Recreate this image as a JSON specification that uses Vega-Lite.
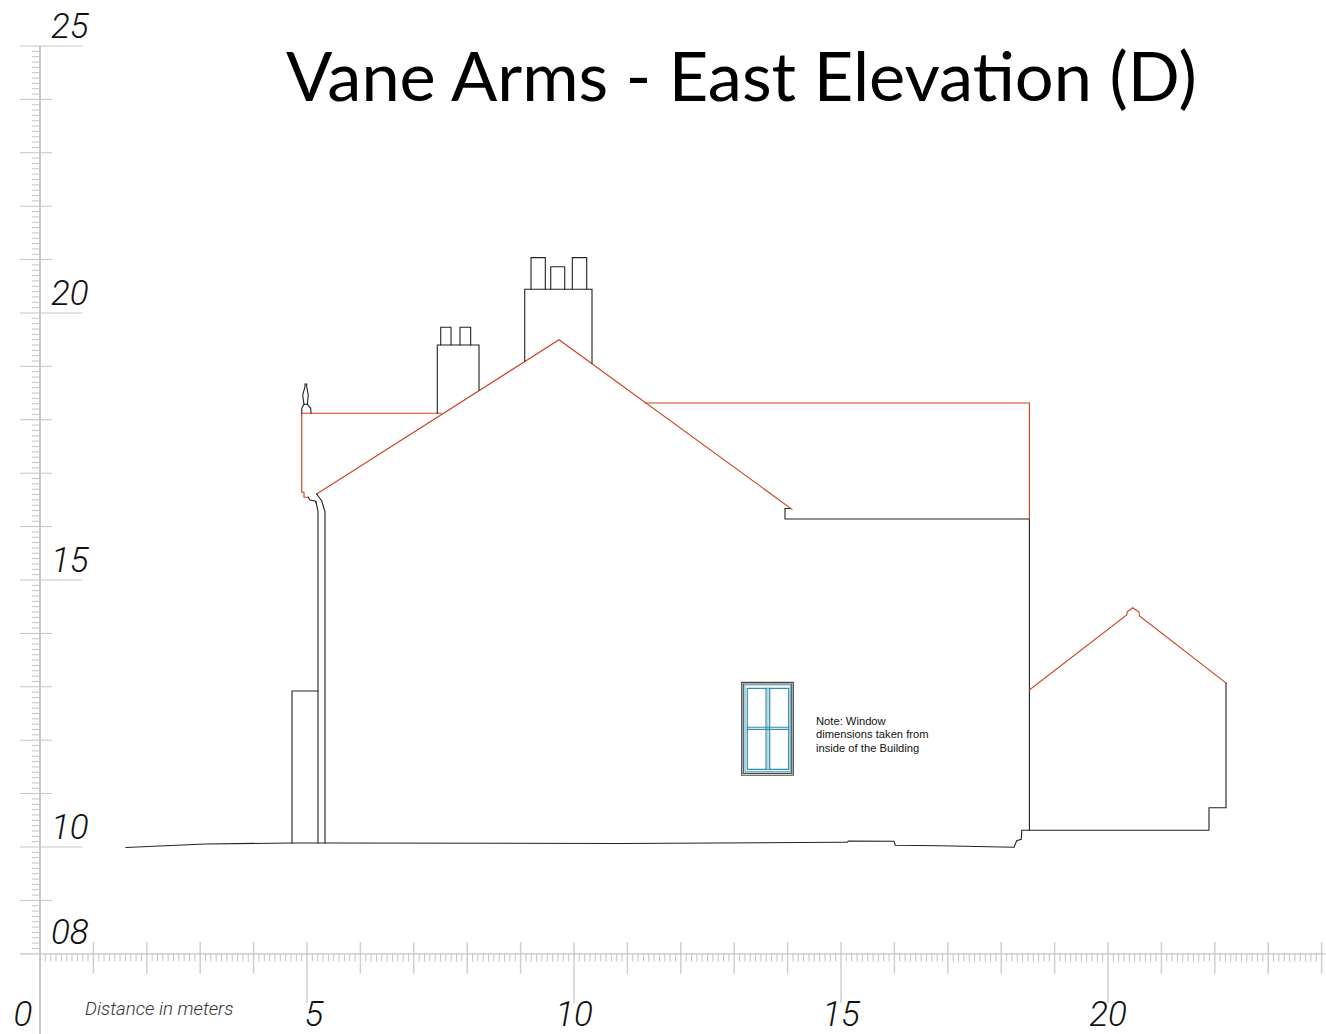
{"$schema":"https://vega.github.io/schema/vega-lite/v6.json","width":1326,"height":1034,"padding":0,"autosize":"none","background":"white","config":{"view":{"stroke":null},"axis":{"disable":true},"legend":{"disable":true}},
"title":{"text":"Vane Arms - East Elevation (D)","anchor":"start","frame":"group","offset":-169,"dx":286,"baseline":"alphabetic","font":"Lato","fontSize":68.5,"fontWeight":400,"color":"#000000"},
"datasets":{
"xMajor":[{"v":1},{"v":2},{"v":3},{"v":4},{"v":6},{"v":7},{"v":8},{"v":9},{"v":11},{"v":12},{"v":13},{"v":14},{"v":16},{"v":17},{"v":18},{"v":19},{"v":21},{"v":22},{"v":23},{"v":24}],
"xFive":[{"v":5},{"v":10},{"v":15},{"v":20}],
"yMajor":[{"v":9},{"v":11},{"v":12},{"v":13},{"v":14},{"v":16},{"v":17},{"v":18},{"v":19},{"v":21},{"v":22},{"v":23},{"v":24}],
"yFive":[{"v":10},{"v":15},{"v":20},{"v":25}],
"xMinor":[{"v":0.1},{"v":0.2},{"v":0.3},{"v":0.4},{"v":0.5},{"v":0.6},{"v":0.7},{"v":0.8},{"v":0.9},{"v":1.1},{"v":1.2},{"v":1.3},{"v":1.4},{"v":1.5},{"v":1.6},{"v":1.7},{"v":1.8},{"v":1.9},{"v":2.1},{"v":2.2},{"v":2.3},{"v":2.4},{"v":2.5},{"v":2.6},{"v":2.7},{"v":2.8},{"v":2.9},{"v":3.1},{"v":3.2},{"v":3.3},{"v":3.4},{"v":3.5},{"v":3.6},{"v":3.7},{"v":3.8},{"v":3.9},{"v":4.1},{"v":4.2},{"v":4.3},{"v":4.4},{"v":4.5},{"v":4.6},{"v":4.7},{"v":4.8},{"v":4.9},{"v":5.1},{"v":5.2},{"v":5.3},{"v":5.4},{"v":5.5},{"v":5.6},{"v":5.7},{"v":5.8},{"v":5.9},{"v":6.1},{"v":6.2},{"v":6.3},{"v":6.4},{"v":6.5},{"v":6.6},{"v":6.7},{"v":6.8},{"v":6.9},{"v":7.1},{"v":7.2},{"v":7.3},{"v":7.4},{"v":7.5},{"v":7.6},{"v":7.7},{"v":7.8},{"v":7.9},{"v":8.1},{"v":8.2},{"v":8.3},{"v":8.4},{"v":8.5},{"v":8.6},{"v":8.7},{"v":8.8},{"v":8.9},{"v":9.1},{"v":9.2},{"v":9.3},{"v":9.4},{"v":9.5},{"v":9.6},{"v":9.7},{"v":9.8},{"v":9.9},{"v":10.1},{"v":10.2},{"v":10.3},{"v":10.4},{"v":10.5},{"v":10.6},{"v":10.7},{"v":10.8},{"v":10.9},{"v":11.1},{"v":11.2},{"v":11.3},{"v":11.4},{"v":11.5},{"v":11.6},{"v":11.7},{"v":11.8},{"v":11.9},{"v":12.1},{"v":12.2},{"v":12.3},{"v":12.4},{"v":12.5},{"v":12.6},{"v":12.7},{"v":12.8},{"v":12.9},{"v":13.1},{"v":13.2},{"v":13.3},{"v":13.4},{"v":13.5},{"v":13.6},{"v":13.7},{"v":13.8},{"v":13.9},{"v":14.1},{"v":14.2},{"v":14.3},{"v":14.4},{"v":14.5},{"v":14.6},{"v":14.7},{"v":14.8},{"v":14.9},{"v":15.1},{"v":15.2},{"v":15.3},{"v":15.4},{"v":15.5},{"v":15.6},{"v":15.7},{"v":15.8},{"v":15.9},{"v":16.1},{"v":16.2},{"v":16.3},{"v":16.4},{"v":16.5},{"v":16.6},{"v":16.7},{"v":16.8},{"v":16.9},{"v":17.1},{"v":17.2},{"v":17.3},{"v":17.4},{"v":17.5},{"v":17.6},{"v":17.7},{"v":17.8},{"v":17.9},{"v":18.1},{"v":18.2},{"v":18.3},{"v":18.4},{"v":18.5},{"v":18.6},{"v":18.7},{"v":18.8},{"v":18.9},{"v":19.1},{"v":19.2},{"v":19.3},{"v":19.4},{"v":19.5},{"v":19.6},{"v":19.7},{"v":19.8},{"v":19.9},{"v":20.1},{"v":20.2},{"v":20.3},{"v":20.4},{"v":20.5},{"v":20.6},{"v":20.7},{"v":20.8},{"v":20.9},{"v":21.1},{"v":21.2},{"v":21.3},{"v":21.4},{"v":21.5},{"v":21.6},{"v":21.7},{"v":21.8},{"v":21.9},{"v":22.1},{"v":22.2},{"v":22.3},{"v":22.4},{"v":22.5},{"v":22.6},{"v":22.7},{"v":22.8},{"v":22.9},{"v":23.1},{"v":23.2},{"v":23.3},{"v":23.4},{"v":23.5},{"v":23.6},{"v":23.7},{"v":23.8},{"v":23.9}],
"yMinor":[{"v":8.1},{"v":8.2},{"v":8.3},{"v":8.4},{"v":8.5},{"v":8.6},{"v":8.7},{"v":8.8},{"v":8.9},{"v":9.1},{"v":9.2},{"v":9.3},{"v":9.4},{"v":9.5},{"v":9.6},{"v":9.7},{"v":9.8},{"v":9.9},{"v":10.1},{"v":10.2},{"v":10.3},{"v":10.4},{"v":10.5},{"v":10.6},{"v":10.7},{"v":10.8},{"v":10.9},{"v":11.1},{"v":11.2},{"v":11.3},{"v":11.4},{"v":11.5},{"v":11.6},{"v":11.7},{"v":11.8},{"v":11.9},{"v":12.1},{"v":12.2},{"v":12.3},{"v":12.4},{"v":12.5},{"v":12.6},{"v":12.7},{"v":12.8},{"v":12.9},{"v":13.1},{"v":13.2},{"v":13.3},{"v":13.4},{"v":13.5},{"v":13.6},{"v":13.7},{"v":13.8},{"v":13.9},{"v":14.1},{"v":14.2},{"v":14.3},{"v":14.4},{"v":14.5},{"v":14.6},{"v":14.7},{"v":14.8},{"v":14.9},{"v":15.1},{"v":15.2},{"v":15.3},{"v":15.4},{"v":15.5},{"v":15.6},{"v":15.7},{"v":15.8},{"v":15.9},{"v":16.1},{"v":16.2},{"v":16.3},{"v":16.4},{"v":16.5},{"v":16.6},{"v":16.7},{"v":16.8},{"v":16.9},{"v":17.1},{"v":17.2},{"v":17.3},{"v":17.4},{"v":17.5},{"v":17.6},{"v":17.7},{"v":17.8},{"v":17.9},{"v":18.1},{"v":18.2},{"v":18.3},{"v":18.4},{"v":18.5},{"v":18.6},{"v":18.7},{"v":18.8},{"v":18.9},{"v":19.1},{"v":19.2},{"v":19.3},{"v":19.4},{"v":19.5},{"v":19.6},{"v":19.7},{"v":19.8},{"v":19.9},{"v":20.1},{"v":20.2},{"v":20.3},{"v":20.4},{"v":20.5},{"v":20.6},{"v":20.7},{"v":20.8},{"v":20.9},{"v":21.1},{"v":21.2},{"v":21.3},{"v":21.4},{"v":21.5},{"v":21.6},{"v":21.7},{"v":21.8},{"v":21.9},{"v":22.1},{"v":22.2},{"v":22.3},{"v":22.4},{"v":22.5},{"v":22.6},{"v":22.7},{"v":22.8},{"v":22.9},{"v":23.1},{"v":23.2},{"v":23.3},{"v":23.4},{"v":23.5},{"v":23.6},{"v":23.7},{"v":23.8},{"v":23.9},{"v":24.1},{"v":24.2},{"v":24.3},{"v":24.4},{"v":24.5},{"v":24.6},{"v":24.7},{"v":24.8},{"v":24.9}],
"yLabels":[{"label":"25","v":25},{"label":"20","v":20},{"label":"15","v":15},{"label":"10","v":10},{"label":"08","v":8.03}],
"xLabels":[{"label":"0","v":-0.318},{"label":"5","v":5.13},{"label":"10","v":10.0},{"label":"15","v":15.0},{"label":"20","v":20.0}],
"notes":[{"label":"Note: Window","x":14.532,"y":12.345},{"label":"dimensions taken from","x":14.532,"y":12.09},{"label":"inside of the Building","x":14.532,"y":11.84}],
"lines":[
{"p":"ground","k":"wall","x":1.61,"y":9.991},{"p":"ground","k":"wall","x":3.09,"y":10.056},{"p":"ground","k":"wall","x":4.719,"y":10.075},{"p":"ground","k":"wall","x":5.431,"y":10.075},{"p":"ground","k":"wall","x":10.861,"y":10.066},{"p":"ground","k":"wall","x":14.981,"y":10.088},{"p":"ground","k":"wall","x":15.118,"y":10.088},{"p":"ground","k":"wall","x":15.137,"y":10.112},{"p":"ground","k":"wall","x":15.993,"y":10.107},{"p":"ground","k":"wall","x":16.017,"y":10.032},{"p":"ground","k":"wall","x":16.854,"y":10.024},{"p":"ground","k":"wall","x":18.24,"y":9.994},{"p":"ground","k":"wall","x":18.29,"y":10.118},{"p":"ground","k":"wall","x":18.376,"y":10.144},{"p":"ground","k":"wall","x":18.384,"y":10.313},{"p":"ground","k":"wall","x":18.528,"y":10.313},{"p":"ground","k":"wall","x":21.891,"y":10.313},{"p":"ground","k":"wall","x":21.891,"y":10.736},{"p":"ground","k":"wall","x":22.21,"y":10.736},{"p":"ground","k":"wall","x":22.21,"y":13.071},
{"p":"mainwall","k":"wall","x":18.528,"y":10.313},{"p":"mainwall","k":"wall","x":18.528,"y":16.142},{"p":"mainwall","k":"wall","x":13.951,"y":16.142},{"p":"mainwall","k":"wall","x":13.951,"y":16.339},{"p":"mainwall","k":"wall","x":14.045,"y":16.339},
{"p":"annexroof","k":"roof","x":18.528,"y":12.94},{"p":"annexroof","k":"roof","x":20.35,"y":14.345},{"p":"annexroof","k":"roof","x":20.361,"y":14.406},{"p":"annexroof","k":"roof","x":20.462,"y":14.481},{"p":"annexroof","k":"roof","x":20.581,"y":14.401},{"p":"annexroof","k":"roof","x":20.59,"y":14.326},{"p":"annexroof","k":"roof","x":22.21,"y":13.071},
{"p":"upper","k":"roof","x":18.528,"y":16.142},{"p":"upper","k":"roof","x":18.528,"y":18.315},{"p":"upper","k":"roof","x":11.33,"y":18.315},
{"p":"gable","k":"roof","x":5.182,"y":16.61},{"p":"gable","k":"roof","x":9.719,"y":19.498},{"p":"gable","k":"roof","x":14.082,"y":16.324},
{"p":"leftroof","k":"roof","x":7.509,"y":18.122},{"p":"leftroof","k":"roof","x":4.901,"y":18.122},{"p":"leftroof","k":"roof","x":4.901,"y":16.642},{"p":"leftroof","k":"roof","x":4.944,"y":16.642},{"p":"leftroof","k":"roof","x":4.944,"y":16.549},{"p":"leftroof","k":"roof","x":5.024,"y":16.549},
{"p":"gutter","k":"wall","x":5.024,"y":16.549},{"p":"gutter","k":"wall","x":5.056,"y":16.498},{"p":"gutter","k":"wall","x":5.15,"y":16.479},{"p":"gutter","k":"wall","x":5.169,"y":16.448},
{"p":"pipeL","k":"wall","x":5.169,"y":16.466},{"p":"pipeL","k":"wall","x":5.206,"y":16.279},{"p":"pipeL","k":"wall","x":5.206,"y":10.075},
{"p":"pipeR","k":"wall","x":5.182,"y":16.61},{"p":"pipeR","k":"wall","x":5.275,"y":16.479},{"p":"pipeR","k":"wall","x":5.337,"y":16.279},{"p":"pipeR","k":"wall","x":5.337,"y":10.075},
{"p":"box","k":"wall","x":4.719,"y":10.075},{"p":"box","k":"wall","x":4.719,"y":12.921},{"p":"box","k":"wall","x":5.206,"y":12.921},
{"p":"finial","k":"wall","x":4.901,"y":18.122},{"p":"finial","k":"wall","x":4.901,"y":18.215},{"p":"finial","k":"wall","x":4.944,"y":18.29},{"p":"finial","k":"wall","x":4.919,"y":18.464},{"p":"finial","k":"wall","x":4.963,"y":18.62},{"p":"finial","k":"wall","x":4.963,"y":18.67},{"p":"finial","k":"wall","x":4.994,"y":18.67},{"p":"finial","k":"wall","x":4.994,"y":18.62},{"p":"finial","k":"wall","x":5.024,"y":18.464},{"p":"finial","k":"wall","x":5.006,"y":18.29},{"p":"finial","k":"wall","x":5.069,"y":18.215},{"p":"finial","k":"wall","x":5.075,"y":18.122},
{"p":"waist","k":"wall","x":4.944,"y":18.29},{"p":"waist","k":"wall","x":5.006,"y":18.29},
{"p":"chim1","k":"wall","x":7.44,"y":18.122},{"p":"chim1","k":"wall","x":7.44,"y":19.401},{"p":"chim1","k":"wall","x":8.221,"y":19.401},{"p":"chim1","k":"wall","x":8.221,"y":18.558},
{"p":"pot1a","k":"wall","x":7.504,"y":19.401},{"p":"pot1a","k":"wall","x":7.504,"y":19.732},{"p":"pot1a","k":"wall","x":7.697,"y":19.732},{"p":"pot1a","k":"wall","x":7.697,"y":19.401},
{"p":"pot1b","k":"wall","x":7.865,"y":19.401},{"p":"pot1b","k":"wall","x":7.865,"y":19.732},{"p":"pot1b","k":"wall","x":8.065,"y":19.732},{"p":"pot1b","k":"wall","x":8.065,"y":19.401},
{"p":"chim2","k":"wall","x":9.077,"y":19.101},{"p":"chim2","k":"wall","x":9.077,"y":20.444},{"p":"chim2","k":"wall","x":10.337,"y":20.444},{"p":"chim2","k":"wall","x":10.337,"y":19.058},
{"p":"pot2a","k":"wall","x":9.195,"y":20.444},{"p":"pot2a","k":"wall","x":9.195,"y":21.036},{"p":"pot2a","k":"wall","x":9.463,"y":21.036},{"p":"pot2a","k":"wall","x":9.463,"y":20.444},
{"p":"pot2b","k":"wall","x":9.564,"y":20.444},{"p":"pot2b","k":"wall","x":9.564,"y":20.867},{"p":"pot2b","k":"wall","x":9.826,"y":20.867},{"p":"pot2b","k":"wall","x":9.826,"y":20.444},
{"p":"pot2c","k":"wall","x":9.968,"y":20.444},{"p":"pot2c","k":"wall","x":9.968,"y":21.036},{"p":"pot2c","k":"wall","x":10.238,"y":21.036},{"p":"pot2c","k":"wall","x":10.238,"y":20.444},
{"p":"win0","k":"casing","x":13.14,"y":13.084},{"p":"win0","k":"casing","x":14.107,"y":13.084},{"p":"win0","k":"casing","x":14.107,"y":11.343},{"p":"win0","k":"casing","x":13.14,"y":11.343},{"p":"win0","k":"casing","x":13.14,"y":13.084},
{"p":"win1","k":"casing","x":13.17,"y":13.052},{"p":"win1","k":"casing","x":14.077,"y":13.052},{"p":"win1","k":"casing","x":14.077,"y":11.38},{"p":"win1","k":"casing","x":13.17,"y":11.38},{"p":"win1","k":"casing","x":13.17,"y":13.052},
{"p":"win2","k":"glassLight","x":13.202,"y":13.034},{"p":"win2","k":"glassLight","x":14.051,"y":13.034},{"p":"win2","k":"glassLight","x":14.051,"y":11.41},{"p":"win2","k":"glassLight","x":13.202,"y":11.41},{"p":"win2","k":"glassLight","x":13.202,"y":13.034},
{"p":"win3","k":"glass","x":13.245,"y":12.972},{"p":"win3","k":"glass","x":14.02,"y":12.972},{"p":"win3","k":"glass","x":14.02,"y":11.455},{"p":"win3","k":"glass","x":13.245,"y":11.455},{"p":"win3","k":"glass","x":13.245,"y":12.972},
{"p":"mullM","k":"glassBand","x":13.631,"y":12.972},{"p":"mullM","k":"glassBand","x":13.631,"y":11.455},
{"p":"mullL","k":"glass","x":13.596,"y":12.972},{"p":"mullL","k":"glass","x":13.596,"y":11.455},
{"p":"mullR","k":"glass","x":13.665,"y":12.972},{"p":"mullR","k":"glass","x":13.665,"y":11.455},
{"p":"barT","k":"glass","x":13.245,"y":12.242},{"p":"barT","k":"glass","x":14.02,"y":12.242},
{"p":"barB","k":"glass","x":13.245,"y":12.204},{"p":"barB","k":"glass","x":14.02,"y":12.204}
]},
"layer":[
{"data":{"name":"xMinor"},"mark":{"type":"rule","stroke":"#c4c4c4","strokeWidth":1},"encoding":{"x":{"field":"v","type":"quantitative","scale":{"domain":[-0.749,24.082],"nice":false,"zero":false}},"y":{"datum":7.996,"scale":{"domain":[6.498,25.861],"nice":false,"zero":false}},"y2":{"datum":7.855}}},
{"data":{"name":"yMinor"},"mark":{"type":"rule","stroke":"#c4c4c4","strokeWidth":1},"encoding":{"y":{"field":"v","type":"quantitative"},"x":{"datum":-0.15},"x2":{"datum":0}}},
{"data":{"name":"xMajor"},"mark":{"type":"rule","stroke":"#cfcfcf","strokeWidth":1.5},"encoding":{"x":{"field":"v","type":"quantitative"},"y":{"datum":8.221},"y2":{"datum":7.628}}},
{"data":{"name":"xFive"},"mark":{"type":"rule","stroke":"#cfcfcf","strokeWidth":1.5},"encoding":{"x":{"field":"v","type":"quantitative"},"y":{"datum":8.221},"y2":{"datum":7.079}}},
{"data":{"name":"yMajor"},"mark":{"type":"rule","stroke":"#c4c4c4","strokeWidth":1},"encoding":{"y":{"field":"v","type":"quantitative"},"x":{"datum":-0.375},"x2":{"datum":0.225}}},
{"data":{"name":"yFive"},"mark":{"type":"rule","stroke":"#c8c8c8","strokeWidth":1.2},"encoding":{"y":{"field":"v","type":"quantitative"},"x":{"datum":-0.375},"x2":{"datum":0.8}}},
{"data":{"values":[{"v":8}]},"mark":{"type":"rule","stroke":"#c4c4c4","strokeWidth":1.2},"encoding":{"y":{"field":"v","type":"quantitative"},"x":{"datum":-0.375},"x2":{"datum":24.082}}},
{"data":{"values":[{"v":0}]},"mark":{"type":"rule","stroke":"#c8c8c8","strokeWidth":2},"encoding":{"x":{"field":"v","type":"quantitative"},"y":{"datum":25},"y2":{"datum":6.498}}},
{"data":{"name":"lines"},"mark":{"type":"line","clip":false,"strokeCap":"square","strokeJoin":"miter"},"encoding":{"x":{"field":"x","type":"quantitative"},"y":{"field":"y","type":"quantitative"},"detail":{"field":"p"},"order":{"value":null},"color":{"field":"k","type":"nominal","scale":{"domain":["wall","roof","casing","glass","glassLight","glassBand"],"range":["#222222","#c9431f","#4a4a4a","#2f8db0","#6fb5ce","#8fc3d6"]}},"strokeWidth":{"field":"k","type":"nominal","scale":{"domain":["wall","roof","casing","glass","glassLight","glassBand"],"range":[1.1,1.25,1.2,1.4,1.4,3]}}}},
{"data":{"name":"yLabels"},"mark":{"type":"text","align":"left","baseline":"alphabetic","dy":-8,"font":"Roboto","fontWeight":300,"fontStyle":"italic","fontSize":35,"fill":"#111111"},"encoding":{"y":{"field":"v","type":"quantitative"},"x":{"datum":0.206},"text":{"field":"label"}}},
{"data":{"name":"xLabels"},"mark":{"type":"text","align":"center","baseline":"alphabetic","font":"Roboto","fontWeight":300,"fontStyle":"italic","fontSize":35,"fill":"#111111"},"encoding":{"x":{"field":"v","type":"quantitative"},"y":{"datum":6.647},"text":{"field":"label"}}},
{"data":{"values":[{"label":"Distance in meters"}]},"mark":{"type":"text","align":"left","baseline":"middle","font":"Roboto","fontWeight":300,"fontStyle":"italic","fontSize":18.7,"fill":"#333333"},"encoding":{"x":{"datum":0.843},"y":{"datum":6.966},"text":{"field":"label"}}},
{"data":{"name":"notes"},"mark":{"type":"text","align":"left","baseline":"middle","font":"Liberation Sans","fontSize":11.2,"fill":"#111111"},"encoding":{"x":{"field":"x","type":"quantitative"},"y":{"field":"y","type":"quantitative"},"text":{"field":"label"}}}
]}
